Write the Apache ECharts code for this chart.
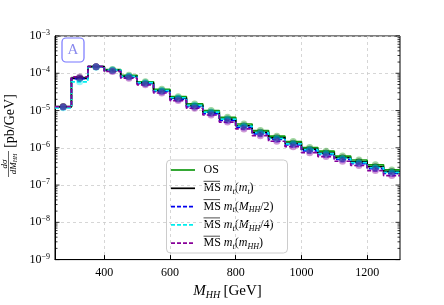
<!DOCTYPE html>
<html>
<head>
<meta charset="utf-8">
<script src="https://cdn.jsdelivr.net/npm/echarts@6/dist/echarts.min.js"></script>
<style>html,body{margin:0;padding:0;background:#fff;}#c{width:444px;height:305px;}</style>
</head>
<body>
<div id="c"></div>
<script>
// Bin left edges (GeV), bin width 50
var binEdges = [250,300,350,400,450,500,550,600,650,700,750,800,850,900,950,1000,1050,1100,1150,1200,1250];
var xMax = 1300;
var xTicks = [400,600,800,1000,1200];
var yTicks = [1e-9,1e-8,1e-7,1e-6,1e-5,1e-4,1e-3];

var seriesOS = [1.28e-5,7.6e-5,1.50e-4,1.26e-4,8.8e-5,5.9e-5,3.7e-5,2.35e-5,1.5e-5,1.0e-5,6.6e-6,4.35e-6,2.9e-6,2.05e-6,1.47e-6,1.02e-6,8.1e-7,6.0e-7,4.7e-7,3.5e-7,2.55e-7];
var seriesMt = [1.26e-5,7.3e-5,1.50e-4,1.20e-4,8.2e-5,5.5e-5,3.4e-5,2.15e-5,1.35e-5,9.0e-6,5.9e-6,3.9e-6,2.6e-6,1.85e-6,1.32e-6,9.2e-7,7.2e-7,5.4e-7,4.2e-7,3.1e-7,2.3e-7];
var seriesMhh2 = [1.25e-5,7.2e-5,1.50e-4,1.17e-4,7.9e-5,5.25e-5,3.2e-5,2.0e-5,1.25e-5,8.3e-6,5.4e-6,3.55e-6,2.35e-6,1.68e-6,1.2e-6,8.3e-7,6.5e-7,4.85e-7,3.75e-7,2.75e-7,2.05e-7];
var seriesMhh4 = [1.18e-5,5.9e-5,1.45e-4,1.22e-4,8.3e-5,5.6e-5,3.45e-5,2.2e-5,1.38e-5,9.1e-6,5.9e-6,3.85e-6,2.55e-6,1.8e-6,1.28e-6,8.9e-7,7.0e-7,5.2e-7,4.0e-7,2.95e-7,2.2e-7];
var seriesmhh = [1.27e-5,8.0e-5,1.50e-4,1.12e-4,7.4e-5,4.9e-5,2.95e-5,1.85e-5,1.15e-5,7.6e-6,4.9e-6,3.2e-6,2.12e-6,1.5e-6,1.07e-6,7.4e-7,5.8e-7,4.35e-7,3.35e-7,2.45e-7,1.8e-7];

var names = ['OS','MS mt(mt)','MS mt(MHH/2)','MS mt(MHH/4)','MS mt(mHH)'];
var colors = ['#119911','#000000','#0000ee','#00eeee','#880099'];
var dashed = [false,false,true,true,true];
var allData = [seriesOS, seriesMt, seriesMhh2, seriesMhh4, seriesmhh];

var FONT = 'Liberation Serif';

function stepData(vals){
  var d = [];
  for (var i=0;i<binEdges.length;i++) d.push([binEdges[i], vals[i]]);
  d.push([xMax, vals[vals.length-1]]);
  return d;
}
function centerData(vals){
  var d = [];
  for (var i=0;i<binEdges.length;i++) d.push([binEdges[i]+25, vals[i]]);
  return d;
}

var series = [];
for (var k=0;k<5;k++){
  series.push({
    type:'line', name:names[k], step:'end', data:stepData(allData[k]),
    symbol:'none', z:3+k,
    lineStyle:{color:colors[k], width:1.7, type: dashed[k] ? [4,2] : 'solid'}
  });
}
for (var k=0;k<5;k++){
  series.push({
    type:'scatter', name:names[k]+' pts', data:centerData(allData[k]),
    symbol:'circle', symbolSize:7, z:10,
    itemStyle:{color:colors[k], opacity:0.4}
  });
}
// minor/major ticks on log y axis (left & right inside)
var yTickVals = [];
for (var e=-9;e<-3;e++){
  for (var m=1;m<=9;m++) yTickVals.push([m, m*Math.pow(10,e)]);
}
yTickVals.push([1,1e-3]);
series.push({
  type:'custom', silent:true, z:20,
  data: yTickVals.map(function(t){return [250, t[1], t[0]];}),
  renderItem:function(params, api){
    var v = api.value(1), m = api.value(2);
    var pl = api.coord([250, v]);
    var pr = api.coord([1300, v]);
    var len = (m===1)?4.5:2.5;
    return {type:'group', children:[
      {type:'line', shape:{x1:pr[0]-len, y1:pr[1], x2:pr[0], y2:pr[1]}, style:{stroke:'#000', lineWidth:0.8}},
      {type:'line', shape:{x1:pl[0], y1:pl[1], x2:pl[0]+len, y2:pl[1]}, style:{stroke:'#000', lineWidth:0.8}}
    ]};
  }
});

var chart = echarts.init(document.getElementById('c'), null, {renderer:'canvas'});

var legendRows = [170,188.3,206.6,224.9,243.2];
var legendTexts = [
  'OS',
  '{n|MS} {i|m}{sub|t}{n|(}{i|m}{sub|t}{n|)}',
  '{n|MS} {i|m}{sub|t}{n|(}{i|M}{sub|HH}{n|/2)}',
  '{n|MS} {i|m}{sub|t}{n|(}{i|M}{sub|HH}{n|/4)}',
  '{n|MS} {i|m}{sub|t}{n|(}{i|m}{sub|HH}{n|)}'
];
var richLeg = {
  n:{fontFamily:FONT, fontSize:12, color:'#000', lineHeight:15},
  i:{fontFamily:FONT, fontSize:12, fontStyle:'italic', color:'#000', lineHeight:15},
  sub:{fontFamily:FONT, fontSize:8, fontStyle:'italic', color:'#000', verticalAlign:'bottom', lineHeight:15, padding:[4,0,0,0]}
};
var legendChildren = [{
  type:'rect', shape:{x:166.5, y:160, width:121, height:93, r:4},
  style:{fill:'rgba(255,255,255,0.85)', stroke:'#cccccc', lineWidth:1}
}];
for (var r=0;r<5;r++){
  legendChildren.push({type:'line', shape:{x1:171,y1:legendRows[r],x2:195,y2:legendRows[r]},
    style:{stroke:colors[r], lineWidth:1.7, lineDash: dashed[r]?[4,2]:null}});
  legendChildren.push({type:'text', x:203.5, y:legendRows[r], style:{
    text:legendTexts[r], rich:richLeg, fontFamily:FONT, fontSize:12, fill:'#000', verticalAlign:'middle', align:'left'}});
  if (r>0) legendChildren.push({type:'line', shape:{x1:203.5,y1:legendRows[r]-7,x2:220,y2:legendRows[r]-7}, style:{stroke:'#000', lineWidth:0.7}});
}

var option = {
  animation:false,
  grid:{left:55, right:44, top:36, bottom:45, show:true, borderColor:'#000', borderWidth:1, containLabel:false},
  xAxis:{
    type:'value', min:250, max:xMax,
    name:'{i|M}{sub|HH} {n|[GeV]}', nameLocation:'middle', nameGap:22,
    nameTextStyle:{rich:{
      i:{fontFamily:FONT, fontSize:15, fontStyle:'italic', color:'#000', lineHeight:18},
      sub:{fontFamily:FONT, fontSize:10, fontStyle:'italic', color:'#000', verticalAlign:'bottom', lineHeight:18, padding:[5,0,0,0]},
      n:{fontFamily:FONT, fontSize:15, color:'#000', lineHeight:18}
    }},
    axisLine:{show:true, lineStyle:{color:'#000', width:1}},
    axisTick:{show:true, inside:true, length:4.5, customValues:xTicks, lineStyle:{color:'#000'}},
    axisLabel:{customValues:xTicks, fontFamily:FONT, fontSize:12, color:'#000', margin:7,
      formatter:function(v){return String(v);}},
    splitLine:{show:true, lineStyle:{color:'#cccccc', type:[3,3], width:0.8}}
  },
  yAxis:{
    type:'log', logBase:10, min:1e-9, max:1e-3,
    axisLine:{show:true, lineStyle:{color:'#000', width:1}},
    axisTick:{show:false, customValues:yTicks},
    axisLabel:{customValues:yTicks, margin:5, formatter:function(v){
        var e = Math.round(Math.log(v)/Math.LN10);
        return '{b|10}{s|\u2212' + (-e) + '}';
      }, rich:{
        b:{fontFamily:FONT, fontSize:12, color:'#000', lineHeight:14},
        s:{fontFamily:FONT, fontSize:8, color:'#000', verticalAlign:'top', lineHeight:14, padding:[0,0,5,0]}
      }},
    splitLine:{show:true, lineStyle:{color:'#cccccc', type:[3,3], width:0.8}},
    minorTick:{show:false}, minorSplitLine:{show:false}
  },
  series:series,
  graphic:[
    {type:'group', children:[
      {type:'rect', shape:{x:62, y:38, width:22, height:24, r:4}, style:{fill:'#fff', stroke:'#7777ff', lineWidth:1.2}, z:50},
      {type:'text', x:73, y:50.5, style:{text:'A', fontFamily:FONT, fontSize:15, fill:'#8a8aee', align:'center', verticalAlign:'middle'}, z:51}
    ]},
    {type:'group', children:legendChildren, z:60},
    {type:'group', x:10, y:140, rotation:Math.PI/2, children:[
      {type:'text', x:19, y:0, style:{text:'[pb/GeV]', fontFamily:FONT, fontSize:14, fill:'#000', align:'center', verticalAlign:'middle'}},
      {type:'text', x:-24, y:-5.5, style:{text:'{i|d\u03c3}', rich:{i:{fontFamily:FONT, fontSize:9, fontStyle:'italic', fill:'#000'}}, align:'center', verticalAlign:'middle'}},
      {type:'line', shape:{x1:-37, y1:-1.5, x2:-11, y2:-1.5}, style:{stroke:'#000', lineWidth:0.6}},
      {type:'text', x:-24, y:3.5, style:{text:'{i|dM}{s|HH}', rich:{i:{fontFamily:FONT, fontSize:9, fontStyle:'italic', fill:'#000'}, s:{fontFamily:FONT, fontSize:6, fontStyle:'italic', fill:'#000', verticalAlign:'bottom', padding:[3,0,0,0]}}, align:'center', verticalAlign:'middle'}}
    ]}
  ]
};
chart.setOption(option);
</script>
</body>
</html>
